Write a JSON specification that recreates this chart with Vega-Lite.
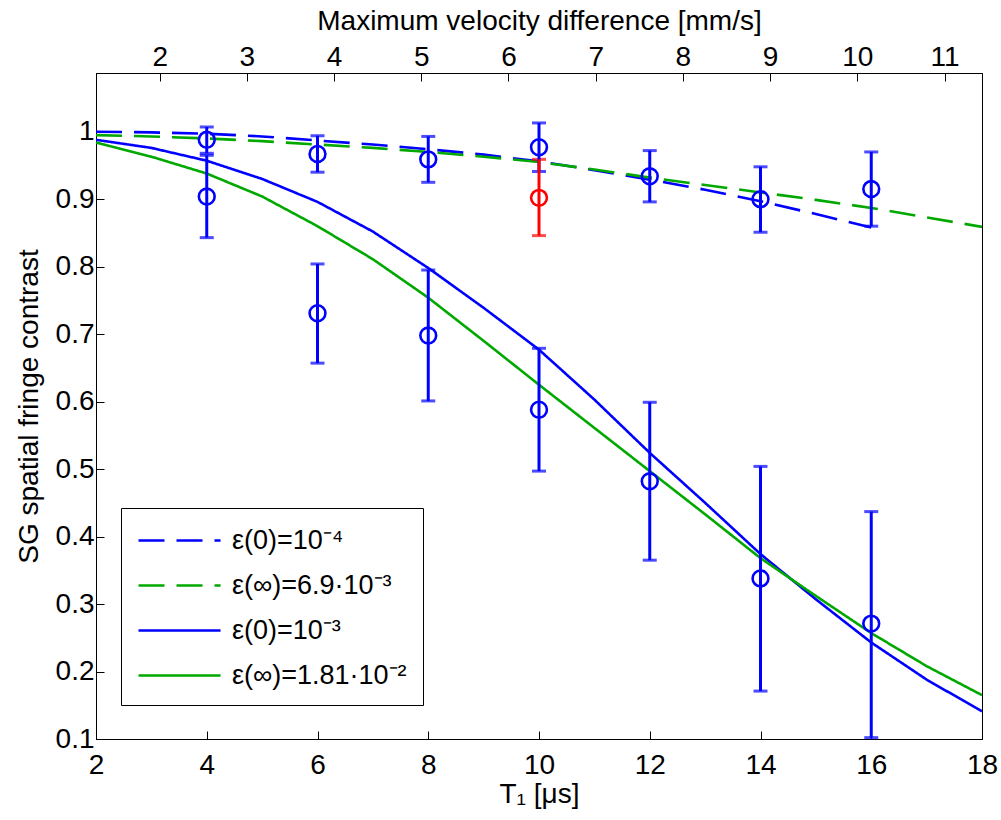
{
  "$schema": "https://vega.github.io/schema/vega-lite/v6.json",
  "width": 886,
  "height": 666,
  "autosize": {"type": "none"},
  "padding": {"left": 96, "top": 73, "right": 19, "bottom": 81},
  "background": "white",
  "config": {
    "font": "Liberation Sans",
    "view": {"stroke": "black", "strokeWidth": 1},
    "axis": {
      "grid": false,
      "domainColor": "black",
      "tickColor": "black",
      "tickSize": -8,
      "labelFontSize": 28,
      "labelColor": "black",
      "labelFont": "Liberation Sans",
      "titleFontSize": 28,
      "titleFontWeight": "normal",
      "titleColor": "black",
      "titleFont": "Liberation Sans"
    }
  },
  "datasets": {
    "curves": [
      {"T": 2, "c": 1.000, "s": "ε(0)=10⁻⁴"},
      {"T": 3, "c": 0.999, "s": "ε(0)=10⁻⁴"},
      {"T": 4, "c": 0.997, "s": "ε(0)=10⁻⁴"},
      {"T": 5, "c": 0.993, "s": "ε(0)=10⁻⁴"},
      {"T": 6, "c": 0.987, "s": "ε(0)=10⁻⁴"},
      {"T": 7, "c": 0.981, "s": "ε(0)=10⁻⁴"},
      {"T": 8, "c": 0.974, "s": "ε(0)=10⁻⁴"},
      {"T": 9, "c": 0.966, "s": "ε(0)=10⁻⁴"},
      {"T": 10, "c": 0.956, "s": "ε(0)=10⁻⁴"},
      {"T": 11, "c": 0.943, "s": "ε(0)=10⁻⁴"},
      {"T": 12, "c": 0.929, "s": "ε(0)=10⁻⁴"},
      {"T": 13, "c": 0.914, "s": "ε(0)=10⁻⁴"},
      {"T": 14, "c": 0.897, "s": "ε(0)=10⁻⁴"},
      {"T": 15, "c": 0.878, "s": "ε(0)=10⁻⁴"},
      {"T": 16, "c": 0.858, "s": "ε(0)=10⁻⁴"},
      {"T": 2, "c": 0.995, "s": "ε(∞)=6.9·10⁻³"},
      {"T": 3, "c": 0.993, "s": "ε(∞)=6.9·10⁻³"},
      {"T": 4, "c": 0.990, "s": "ε(∞)=6.9·10⁻³"},
      {"T": 5, "c": 0.986, "s": "ε(∞)=6.9·10⁻³"},
      {"T": 6, "c": 0.981, "s": "ε(∞)=6.9·10⁻³"},
      {"T": 7, "c": 0.976, "s": "ε(∞)=6.9·10⁻³"},
      {"T": 8, "c": 0.970, "s": "ε(∞)=6.9·10⁻³"},
      {"T": 9, "c": 0.963, "s": "ε(∞)=6.9·10⁻³"},
      {"T": 10, "c": 0.955, "s": "ε(∞)=6.9·10⁻³"},
      {"T": 11, "c": 0.944, "s": "ε(∞)=6.9·10⁻³"},
      {"T": 12, "c": 0.932, "s": "ε(∞)=6.9·10⁻³"},
      {"T": 13, "c": 0.921, "s": "ε(∞)=6.9·10⁻³"},
      {"T": 14, "c": 0.910, "s": "ε(∞)=6.9·10⁻³"},
      {"T": 15, "c": 0.899, "s": "ε(∞)=6.9·10⁻³"},
      {"T": 16, "c": 0.887, "s": "ε(∞)=6.9·10⁻³"},
      {"T": 17, "c": 0.873, "s": "ε(∞)=6.9·10⁻³"},
      {"T": 18, "c": 0.859, "s": "ε(∞)=6.9·10⁻³"},
      {"T": 2, "c": 0.988, "s": "ε(0)=10⁻³"},
      {"T": 3, "c": 0.976, "s": "ε(0)=10⁻³"},
      {"T": 4, "c": 0.957, "s": "ε(0)=10⁻³"},
      {"T": 5, "c": 0.930, "s": "ε(0)=10⁻³"},
      {"T": 6, "c": 0.896, "s": "ε(0)=10⁻³"},
      {"T": 7, "c": 0.852, "s": "ε(0)=10⁻³"},
      {"T": 8, "c": 0.798, "s": "ε(0)=10⁻³"},
      {"T": 9, "c": 0.739, "s": "ε(0)=10⁻³"},
      {"T": 10, "c": 0.677, "s": "ε(0)=10⁻³"},
      {"T": 11, "c": 0.603, "s": "ε(0)=10⁻³"},
      {"T": 12, "c": 0.524, "s": "ε(0)=10⁻³"},
      {"T": 13, "c": 0.450, "s": "ε(0)=10⁻³"},
      {"T": 14, "c": 0.374, "s": "ε(0)=10⁻³"},
      {"T": 15, "c": 0.307, "s": "ε(0)=10⁻³"},
      {"T": 16, "c": 0.243, "s": "ε(0)=10⁻³"},
      {"T": 17, "c": 0.188, "s": "ε(0)=10⁻³"},
      {"T": 18, "c": 0.141, "s": "ε(0)=10⁻³"},
      {"T": 2, "c": 0.984, "s": "ε(∞)=1.81·10⁻²"},
      {"T": 3, "c": 0.963, "s": "ε(∞)=1.81·10⁻²"},
      {"T": 4, "c": 0.938, "s": "ε(∞)=1.81·10⁻²"},
      {"T": 5, "c": 0.904, "s": "ε(∞)=1.81·10⁻²"},
      {"T": 6, "c": 0.860, "s": "ε(∞)=1.81·10⁻²"},
      {"T": 7, "c": 0.811, "s": "ε(∞)=1.81·10⁻²"},
      {"T": 8, "c": 0.754, "s": "ε(∞)=1.81·10⁻²"},
      {"T": 9, "c": 0.690, "s": "ε(∞)=1.81·10⁻²"},
      {"T": 10, "c": 0.625, "s": "ε(∞)=1.81·10⁻²"},
      {"T": 11, "c": 0.561, "s": "ε(∞)=1.81·10⁻²"},
      {"T": 12, "c": 0.497, "s": "ε(∞)=1.81·10⁻²"},
      {"T": 13, "c": 0.433, "s": "ε(∞)=1.81·10⁻²"},
      {"T": 14, "c": 0.368, "s": "ε(∞)=1.81·10⁻²"},
      {"T": 15, "c": 0.312, "s": "ε(∞)=1.81·10⁻²"},
      {"T": 16, "c": 0.257, "s": "ε(∞)=1.81·10⁻²"},
      {"T": 17, "c": 0.208, "s": "ε(∞)=1.81·10⁻²"},
      {"T": 18, "c": 0.165, "s": "ε(∞)=1.81·10⁻²"}
    ],
    "points": [
      {"T": 4, "v": 2.54, "c": 0.988, "lo": 0.968, "hi": 1.007, "highlight": "no"},
      {"T": 4, "v": 2.54, "c": 0.904, "lo": 0.843, "hi": 0.965, "highlight": "no"},
      {"T": 6, "v": 3.81, "c": 0.967, "lo": 0.940, "hi": 0.994, "highlight": "no"},
      {"T": 6, "v": 3.81, "c": 0.731, "lo": 0.657, "hi": 0.804, "highlight": "no"},
      {"T": 8, "v": 5.08, "c": 0.959, "lo": 0.925, "hi": 0.993, "highlight": "no"},
      {"T": 8, "v": 5.08, "c": 0.698, "lo": 0.601, "hi": 0.795, "highlight": "no"},
      {"T": 10, "v": 6.35, "c": 0.977, "lo": 0.941, "hi": 1.013, "highlight": "no"},
      {"T": 10, "v": 6.35, "c": 0.902, "lo": 0.846, "hi": 0.959, "highlight": "yes"},
      {"T": 10, "v": 6.35, "c": 0.588, "lo": 0.497, "hi": 0.679, "highlight": "no"},
      {"T": 12, "v": 7.62, "c": 0.934, "lo": 0.896, "hi": 0.972, "highlight": "no"},
      {"T": 12, "v": 7.62, "c": 0.482, "lo": 0.365, "hi": 0.599, "highlight": "no"},
      {"T": 14, "v": 8.89, "c": 0.900, "lo": 0.851, "hi": 0.948, "highlight": "no"},
      {"T": 14, "v": 8.89, "c": 0.338, "lo": 0.171, "hi": 0.504, "highlight": "no"},
      {"T": 16, "v": 10.16, "c": 0.915, "lo": 0.860, "hi": 0.970, "highlight": "no"},
      {"T": 16, "v": 10.16, "c": 0.271, "lo": 0.102, "hi": 0.437, "highlight": "no"}
    ]
  },
  "layer": [
    {
      "layer": [
        {
          "data": {"name": "curves"},
          "mark": {"type": "line", "strokeWidth": 2.6, "clip": true},
          "encoding": {
            "x": {"field": "T", "type": "quantitative", "title": "T₁ [μs]"},
            "y": {"field": "c", "type": "quantitative", "title": "SG spatial fringe contrast"},
            "color": {
              "field": "s", "type": "nominal",
              "scale": {
                "domain": ["ε(0)=10⁻⁴", "ε(∞)=6.9·10⁻³", "ε(0)=10⁻³", "ε(∞)=1.81·10⁻²"],
                "range": ["#0000ff", "#00a800", "#0000ff", "#00a800"]
              },
              "legend": null
            },
            "strokeDash": {
              "field": "s", "type": "nominal",
              "scale": {
                "domain": ["ε(0)=10⁻⁴", "ε(∞)=6.9·10⁻³", "ε(0)=10⁻³", "ε(∞)=1.81·10⁻²"],
                "range": [[26, 12], [26, 12], [1, 0], [1, 0]]
              },
              "legend": {
                "title": null,
                "orient": "none",
                "legendX": 25,
                "legendY": 435,
                "direction": "vertical",
                "strokeColor": "black",
                "fillColor": "white",
                "padding": 16,
                "cornerRadius": 0,
                "symbolType": "M-1,0H4.47",
                "symbolSize": 900,
                "symbolStrokeWidth": 2.6,
                "symbolFillColor": "transparent",
                "labelFontSize": 27,
                "labelFont": "Liberation Sans",
                "labelColor": "black",
                "labelOffset": 62,
                "rowPadding": 15,
                "labelLimit": 400,
                "encode": {
                  "symbols": {
                    "update": {
                      "stroke": {"signal": "indexof(datum.value, '(0)') >= 0 ? '#0000ff' : '#00a800'"},
                      "strokeDash": {"signal": "(indexof(datum.value, '⁻⁴') >= 0 || indexof(datum.value, '6.9') >= 0) ? [26, 12] : [1, 0]"}
                    }
                  }
                }
              }
            }
          }
        },
        {
          "data": {"name": "points"},
          "mark": {"type": "errorbar", "ticks": true, "size": 14, "thickness": 3},
          "encoding": {
            "x": {"field": "T", "type": "quantitative", "title": "T₁ [μs]"},
            "y": {"field": "lo", "type": "quantitative", "title": "SG spatial fringe contrast"},
            "y2": {"field": "hi"},
            "color": {"field": "highlight", "type": "nominal", "scale": {"domain": ["no", "yes"], "range": ["#0000ff", "#ff0000"]}, "legend": null}
          }
        },
        {
          "data": {"name": "points"},
          "mark": {"type": "point", "shape": "circle", "filled": false, "size": 250, "strokeWidth": 2.6, "opacity": 1},
          "encoding": {
            "x": {
              "field": "T", "type": "quantitative",
              "scale": {"domain": [2, 18], "nice": false, "zero": false},
              "axis": {"title": "T₁ [μs]", "values": [2, 4, 6, 8, 10, 12, 14, 16, 18], "format": "d", "labelPadding": 20, "titlePadding": 1, "labelFlush": false}
            },
            "y": {
              "field": "c", "type": "quantitative",
              "scale": {"domain": [0.1, 1.087], "nice": false, "zero": false},
              "axis": {"title": "SG spatial fringe contrast", "values": [0.1, 0.2, 0.3, 0.4, 0.5, 0.6, 0.7, 0.8, 0.9, 1.0], "format": ".1~f", "labelPadding": 10, "titlePadding": 12, "labelFlush": false}
            },
            "color": {"field": "highlight", "type": "nominal", "scale": {"domain": ["no", "yes"], "range": ["#0000ff", "#ff0000"]}, "legend": null}
          }
        }
      ],
      "resolve": {"scale": {"color": "independent"}}
    },
    {
      "data": {"name": "points"},
      "mark": {"type": "point", "opacity": 0},
      "encoding": {
        "x": {
          "field": "v", "type": "quantitative",
          "scale": {"domain": [1.27, 11.43], "nice": false, "zero": false},
          "axis": {"orient": "top", "title": "Maximum velocity difference [mm/s]", "values": [2, 3, 4, 5, 6, 7, 8, 9, 10, 11], "format": "d", "labelPadding": 10, "titlePadding": 8, "labelFlush": false}
        },
        "y": {"field": "c", "type": "quantitative", "title": "SG spatial fringe contrast"}
      }
    }
  ],
  "resolve": {"scale": {"x": "independent"}}
}
